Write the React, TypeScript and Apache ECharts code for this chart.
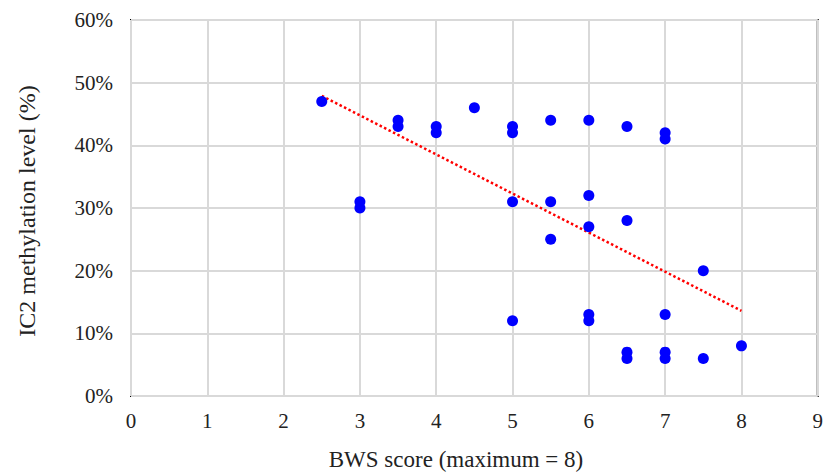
import React, { useEffect, useRef } from "react";
import * as echarts from "echarts";

const bwsScore = [2.5, 3, 3, 3.5, 3.5, 4, 4, 4.5, 5, 5, 5, 5, 5.5, 5.5, 5.5, 6, 6, 6, 6, 6, 6.5, 6.5, 6.5, 6.5, 7, 7, 7, 7, 7, 7.5, 7.5, 8];
const methylation = [47, 31, 30, 44, 43, 43, 42, 46, 43, 42, 31, 12, 44, 31, 25, 44, 32, 27, 13, 12, 43, 28, 7, 6, 42, 41, 13, 7, 6, 20, 6, 8];
const trendX = [2.5, 8];
const trendY = [47.9, 13.6];
const xTitle = "BWS score (maximum = 8)";
const yTitle = "IC2 methylation level (%)";

const FONT = "'Liberation Serif', 'Times New Roman', serif";

export default function App() {
  const ref = useRef<HTMLDivElement>(null);
  useEffect(() => {
    if (!ref.current) return;
    const chart = echarts.init(ref.current, undefined, { renderer: "svg" });
    chart.setOption({
      animation: false,
      backgroundColor: "#ffffff",
      grid: {
        left: 131,
        right: 8,
        top: 20,
        bottom: 78,
        show: true,
        borderColor: "#000000",
        borderWidth: 2,
        containLabel: false,
      },
      xAxis: {
        type: "value",
        min: 0,
        max: 9,
        interval: 1,
        axisLine: { show: false },
        axisTick: { show: false },
        axisLabel: { color: "#222", fontFamily: FONT, fontSize: 21, margin: 14 },
        splitLine: { show: true, lineStyle: { color: "#d9d9d9", width: 2 } },
      },
      yAxis: {
        type: "value",
        min: 0,
        max: 60,
        interval: 10,
        axisLine: { show: false },
        axisTick: { show: false },
        axisLabel: { color: "#222", fontFamily: FONT, fontSize: 21, margin: 18, formatter: "{value}%" },
        splitLine: { show: true, lineStyle: { color: "#d9d9d9", width: 2 } },
      },
      graphic: [
        {
          type: "text",
          x: 456,
          y: 459,
          style: { text: xTitle, fill: "#222", font: `23px ${FONT}`, align: "center", verticalAlign: "middle" },
        },
        {
          type: "text",
          x: 27,
          y: 211,
          rotation: Math.PI / 2,
          style: { text: yTitle, fill: "#222", font: `24px ${FONT}`, align: "center", verticalAlign: "middle" },
        },
      ],
      series: [
        {
          type: "line",
          data: trendX.map((x, i) => [x, trendY[i]]),
          symbol: "none",
          lineStyle: { color: "#ff0000", width: 2.5, type: [2.5, 2.5] },
          z: 3,
        },
        {
          type: "scatter",
          data: bwsScore.map((x, i) => [x, methylation[i]]),
          symbol: "circle",
          symbolSize: 11,
          itemStyle: { color: "#0000ff", opacity: 1 },
          z: 4,
        },
      ],
    });
    return () => chart.dispose();
  }, []);
  return <div ref={ref} style={{ position: "fixed", left: 0, top: 0, width: 826, height: 474 }} />;
}
